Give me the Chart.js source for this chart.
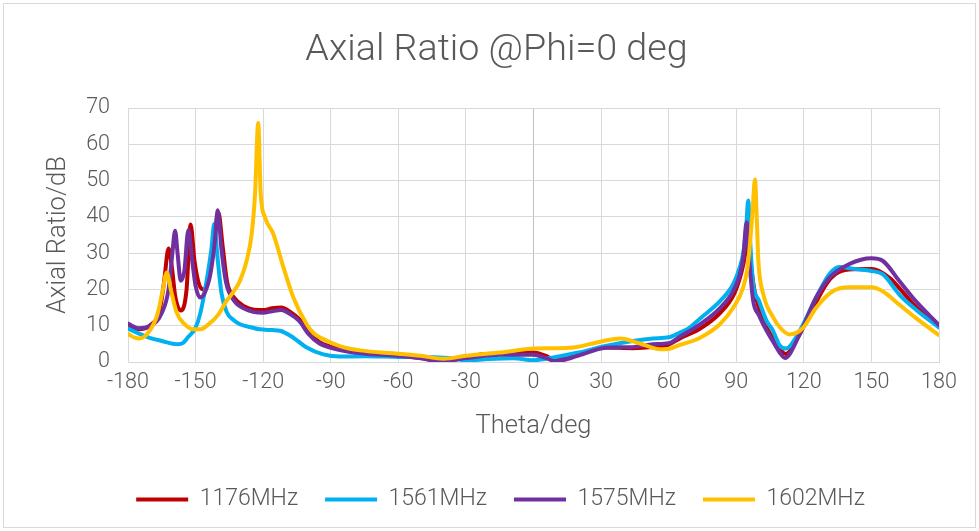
<!DOCTYPE html>
<html>
<head>
<meta charset="utf-8">
<script src="https://cdn.jsdelivr.net/npm/chart.js@4/dist/chart.umd.min.js"></script>
<style>
  html, body { margin: 0; padding: 0; background: #ffffff; }
  canvas { display: block; }
</style>
</head>
<body>
<canvas id="c" width="979" height="531"></canvas>
<script>
// ---- data ----
const seriesNames = ['1176MHz', '1561MHz', '1575MHz', '1602MHz'];
const xTicks = [-180, -150, -120, -90, -60, -30, 0, 30, 60, 90, 120, 150, 180];
const yTicks = [0, 10, 20, 30, 40, 50, 60, 70];

const theta1176 = [-180,-175.5,-170,-166,-164,-162,-160.5,-159,-156.5,-154,-152.2,-150.5,-148.5,-146.5,-144,-142,-139.9,-138,-136,-133,-128,-124,-120,-116,-112,-108,-104,-100,-95,-90,-82,-75,-60,-50,-41,-30,-22,-15,0,5,10,20,32,44,53,60,65,74,83,89,92,93.5,95.3,96.5,98,100,103.5,107,112,118,125,130,134,140,150,158,165,170,180];
const ar1176 = [10.4,9.0,10.2,14,22,31.3,26,18,14.2,20,37.9,28,21.5,20,24,31,41.3,32,22,17.8,15.2,14.4,14.3,14.8,15,13.8,11.8,8.3,5.5,4.2,3.0,2.5,1.8,1.1,0.2,1.2,2.2,2.3,2.6,1.8,0.6,2.0,4.0,3.8,4.1,4.8,6.5,9.2,13.6,18.7,24,28,35,27,20,15,9.5,6,2.2,7.5,16,21.5,24.2,25.5,25.6,23.2,18.5,15,10];

const theta1561 = [-180,-171,-165,-158,-155.5,-153.4,-150,-148,-145.1,-143,-141.7,-140.3,-138.5,-136.2,-133,-130.3,-125,-121.5,-116,-112.5,-106.6,-100.7,-93.3,-86,-75,-60,-45,-36,-30,-20,-9,0,10,20,32,44,53,60,65,69,74,83,88.7,91.5,93.1,94.4,95.3,96.2,97.5,100,103.5,106,109.4,112,118,125.4,131.3,135.7,143,150,155,162.4,169.8,180];
const ar1561 = [9.2,6.8,5.8,4.9,5.3,6.8,9.5,13.2,22.4,31,38.1,29,19,13.8,11.5,10.4,9.5,9,8.8,8.6,6.7,4,2.1,1.5,1.6,1.4,1.3,1.0,0.4,0.8,1,0.5,1.4,2.6,4.4,5.8,6.5,6.8,8.1,9.3,12,16.9,21.5,26,30,37,44.5,33,21.5,17,11.3,9,4.5,3.7,8.4,17.7,24.2,26.2,25.6,25.1,24.2,18.6,14.4,9.5];

const theta1575 = [-180,-175.5,-170,-165,-162,-160.3,-159.1,-158,-156.6,-155,-153.2,-151.5,-150,-148,-146,-143.5,-141.5,-140.2,-138.5,-136.5,-133,-128,-124,-120,-116,-112,-108,-104,-100,-95,-90,-82,-75,-60,-50,-41,-30,-15,0,5,10,20,32,44,53,60,65,74,83,88.7,91.5,93.1,94.6,95.8,97.5,100,103.5,106,109.4,111.6,118,125.4,131.3,140.2,150,155,162.4,169.8,180];
const ar1575 = [10.6,9.3,10,13.5,20,30,36.2,30,22.4,25,36.4,28,21,17.8,19,24,33,41.8,31,22,17,14.6,13.8,13.6,14,14.3,13.2,11.3,7.8,5.1,3.9,2.8,2.3,1.7,1,0.2,1.1,2,2,1.2,0.2,1.8,3.9,4.1,4.9,5.2,7,10.4,15,19.6,24,28.9,38.5,28,16.9,13,8.6,6,2.5,1.1,7.4,17.7,23.2,27,28.6,27.9,22.3,16.7,10.2];

const theta1602 = [-180,-177,-175,-171,-167,-164.5,-162.8,-161,-158.4,-155,-151,-148,-144,-140,-136.2,-133,-130.3,-127.3,-125.1,-123.6,-122.2,-121.1,-119.2,-115.5,-111,-106.6,-100.7,-97.7,-93.3,-86,-77,-60,-50,-40,-30,-15,0,8,17.8,29.6,38.5,47.3,56.2,60,65,74,82.7,88.7,93.1,95,96.1,97.3,98.3,99.2,99.8,102,106.4,109.4,113.5,119.5,125.4,132.8,140.2,150,155,162.4,169.8,180];
const ar1602 = [7.7,6.7,6.5,8.1,13,20,24.7,20,13.6,10.5,9,9,10.5,13,16.9,19.5,22.4,28,35.3,46.4,65.9,46.4,39.9,35.3,26.1,17.8,10.4,8,6.3,4.4,3.2,2.3,1.7,0.9,1.7,2.6,3.7,3.8,4,5.6,6.5,5.1,3.5,3.6,4.7,6.7,10.4,15,20.6,26,32.6,42,50.3,38,28,18.7,12.3,9.5,7.6,9.3,14.9,19.5,20.6,20.6,19.5,15.8,12.1,7.4];

const seriesColors = ['#C00000', '#00B0F0', '#7030A0', '#FFC000'];
const thetas = [theta1176, theta1561, theta1575, theta1602];
const values = [ar1176, ar1561, ar1575, ar1602];

// ---- chart ----
const FONT = "Roboto, 'Open Sans', 'Liberation Sans', sans-serif";
const TXT = '#595959';

const datasets = seriesNames.map((name, i) => ({
  label: name,
  data: thetas[i].map((t, k) => ({ x: t, y: values[i][k] })),
  borderColor: seriesColors[i],
  backgroundColor: seriesColors[i],
  borderWidth: 4,
  pointRadius: 0,
  pointHoverRadius: 0,
  cubicInterpolationMode: 'monotone',
  borderJoinStyle: 'round',
  borderCapStyle: 'round',
  fill: false,
  order: 4 - i
}));

const frame = {
  id: 'frame',
  beforeDraw(chart) {
    const ctx = chart.ctx;
    ctx.save();
    ctx.fillStyle = '#ffffff';
    ctx.fillRect(0, 0, chart.width, chart.height);
    ctx.strokeStyle = '#d9d9d9';
    ctx.lineWidth = 1;
    ctx.strokeRect(3.5, 3.5, chart.width - 7, chart.height - 7);
    ctx.restore();
  }
};

// the reference centres its title and legend a little right of the canvas centre
const nudge = {
  id: 'nudge',
  afterLayout(chart) {
    const shift = (box, dx) => { if (box) { box.left += dx; box.right += dx; } };
    shift(chart.legend, 11);
    shift(chart.titleBlock, 7);
  }
};

new Chart(document.getElementById('c'), {
  type: 'line',
  data: { datasets },
  plugins: [frame, nudge],
  options: {
    responsive: false,
    animation: false,
    layout: { padding: { left: 40, right: 40, top: 0, bottom: 10 } },
    plugins: {
      title: {
        display: true,
        text: 'Axial Ratio @Phi=0 deg',
        color: TXT,
        font: { family: FONT, size: 37.7, weight: '300' },
        padding: { top: 28, bottom: 34.8 }
      },
      legend: {
        position: 'bottom',
        labels: {
          sort: (a, b) => a.datasetIndex - b.datasetIndex,
          color: TXT,
          font: { family: FONT, size: 23, weight: '300' },
          boxWidth: 52,
          boxHeight: 4,
          padding: 27,
          generateLabels(chart) {
            return chart.data.datasets.map((ds, i) => ({
              text: ds.label,
              fillStyle: ds.borderColor,
              strokeStyle: ds.borderColor,
              lineWidth: 0,
              hidden: false,
              datasetIndex: i,
              fontColor: TXT
            }));
          }
        }
      },
      tooltip: { enabled: false }
    },
    scales: {
      x: {
        type: 'linear',
        min: -180,
        max: 180,
        afterBuildTicks(scale) { scale.ticks = xTicks.map(v => ({ value: v })); },
        afterFit(scale) { scale.height = 99; },
        ticks: { color: TXT, font: { family: FONT, size: 21.5, weight: '300' }, padding: 8, maxRotation: 0 },
        grid: {
          color: ctx => (ctx.tick && ctx.tick.value === 0 ? '#bfbfbf' : '#d9d9d9'),
          lineWidth: 1,
          drawTicks: false
        },
        border: { color: '#d9d9d9' },
        title: {
          display: true,
          text: 'Theta/deg',
          color: TXT,
          font: { family: FONT, size: 25.5, weight: '300' },
          padding: { top: 0, bottom: 19 }
        }
      },
      y: {
        type: 'linear',
        min: 0,
        max: 70,
        afterBuildTicks(scale) { scale.ticks = yTicks.map(v => ({ value: v })); },
        afterFit(scale) { scale.width = 88; },
        ticks: { color: TXT, font: { family: FONT, size: 21.5, weight: '300' }, padding: 18 },
        grid: { color: '#d9d9d9', lineWidth: 1, drawTicks: false },
        border: { display: false },
        title: {
          display: true,
          text: 'Axial Ratio/dB',
          color: TXT,
          font: { family: FONT, size: 25.5, weight: '300' },
          padding: { top: 3, bottom: 4 }
        }
      }
    }
  }
});
</script>
</body>
</html>
